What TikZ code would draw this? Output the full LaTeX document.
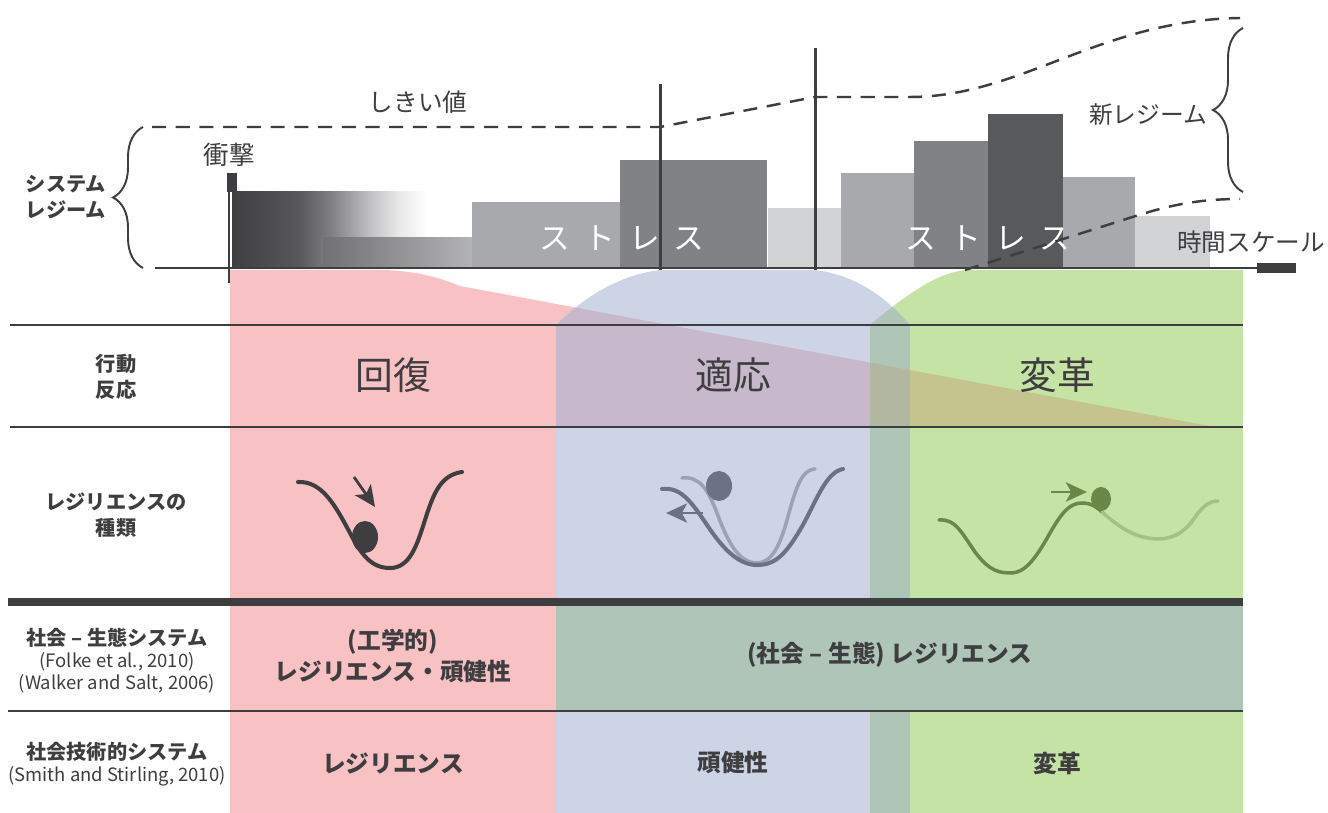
\documentclass[tikz,border=0pt]{standalone}
\usepackage{fontspec}
\setmainfont{Noto Sans CJK JP}
\usetikzlibrary{arrows.meta,decorations.pathreplacing}

\definecolor{ink}{HTML}{3E3E40}
\definecolor{pinkzone}{HTML}{F8C1C4}
\definecolor{bluezone}{HTML}{CDD4E6}
\definecolor{greenzone}{HTML}{C6E3A6}
\definecolor{bluegreen}{HTML}{AFC5B8}
\definecolor{pinkblue}{HTML}{C8B8CB}
\definecolor{pinkgreen}{HTML}{C5C48F}
\definecolor{pinkbluegreen}{HTML}{B2B7A2}
\definecolor{barA}{HTML}{A7A9AC}
\definecolor{barB}{HTML}{808285}
\definecolor{barC}{HTML}{58595B}
\definecolor{barD}{HTML}{D1D3D4}
\definecolor{slate}{HTML}{6B7285}
\definecolor{slatelight}{HTML}{9AA2B4}
\definecolor{moss}{HTML}{6A8748}
\definecolor{mosslight}{HTML}{A3C282}
\definecolor{fadeA}{HTML}{3F3F42}
\definecolor{fadeB}{HTML}{58585A}
\definecolor{fadeC}{HTML}{7F7F81}
\definecolor{fadeD}{HTML}{C0C0C2}
\definecolor{fadeE}{HTML}{E8E8E9}

% shock bar fading out towards the right
\pgfdeclarehorizontalshading{shockfade}{100bp}{color(0bp)=(fadeA); color(25bp)=(fadeA);
  color(41bp)=(fadeB); color(48.6bp)=(fadeC); color(58bp)=(fadeD); color(65bp)=(fadeE);
  color(72bp)=(white); color(100bp)=(white)}

\newcommand\fsz[2]{\fontsize{#1}{#2}\selectfont}

\tikzset{
  rowline/.style={ink, line width=1.7pt},
  rowhead/.style={ink, align=center, font=\fsz{11.5}{14.5}\bfseries},
  citation/.style={ink, font=\fsz{10.5}{12}},
  zonetext/.style={ink, font=\fsz{21.5}{26}},
  celltext/.style={ink, align=center, font=\fsz{13.5}{18}\bfseries},
  stress/.style={white, font=\fsz{17.5}{20}},
  threshold/.style={ink, line width=1.4pt, dash pattern=on 8pt off 5.5pt},
  regimebrace/.style={ink, line width=1.1pt, decorate, decoration={brace, amplitude=0.6cm}},
  valley/.style={line width=2.3pt, line cap=round},
  push/.style={line width=1.6pt, -{Stealth[length=12pt, width=11pt, inset=3pt]}},
}

\begin{document}
\begin{tikzpicture}[x=0.02cm, y=-0.02cm]
\useasboundingbox (0,0) rectangle (1328,813);

\def\pinkarea{(230,270) -- (383,270) .. controls (418,271) and (440,278) .. (460,286) -- (1215,427) -- (556,427) -- (556,813) -- (230,813) -- cycle}
\def\bluearea{(556,325) .. controls (585,296) and (620,275) .. (660,270) -- (815,270) .. controls (855,275) and (885,296) .. (910,325) -- (910,813) -- (556,813) -- cycle}
\def\greenarea{(870,325) .. controls (900,300) and (935,272) .. (967,270) -- (1243,270) -- (1243,813) -- (870,813) -- cycle}

% zones and their overlaps
\fill[pinkzone] \pinkarea;
\fill[bluezone] \bluearea;
\fill[greenzone] \greenarea;
\begin{scope}
  \clip \bluearea;
  \fill[bluegreen] \greenarea;
\end{scope}
\begin{scope}
  \clip \pinkarea;
  \fill[pinkblue] \bluearea;
  \fill[pinkgreen] \greenarea;
  \clip \bluearea;
  \fill[pinkbluegreen] \greenarea;
\end{scope}
\fill[bluegreen] (556,602) rectangle (1243,711);

% table rules
\draw[rowline] (10,325) -- (1243,325);
\draw[rowline] (10,427) -- (1243,427);
\draw[ink, line width=4.3pt] (8,602) -- (1243,602);
\draw[rowline] (8,711) -- (1243,711);

% recovery
\draw[valley, ink] (298,482) .. controls (322,481) and (335,505) .. (350,533) .. controls (362,556) and (372,568) .. (390,568) .. controls (410,568) and (417,545) .. (425,520) .. controls (433,495) and (440,475) .. (462,472);
\fill[ink] (365,537) ellipse [x radius=13, y radius=16];
\coordinate (fallA) at (354,477);
\coordinate (fallB) at (375,507);
\draw[push, ink] (fallA) -- (fallB);

% adaptation
\draw[valley, slatelight, line width=2pt] (682,478) .. controls (700,476) and (708,490) .. (717,513) .. controls (727,540) and (738,563) .. (757,563) .. controls (772,563) and (780,545) .. (787,520) .. controls (795,492) and (800,470) .. (815,469);
\draw[valley, slate] (662,489) .. controls (680,487) and (690,500) .. (705,522) .. controls (722,548) and (738,565) .. (757,565) .. controls (775,565) and (785,555) .. (800,530) .. controls (815,505) and (825,472) .. (843,469);
\fill[slate] (719,486) ellipse [x radius=13, y radius=15];
\coordinate (shiftA) at (703,513);
\coordinate (shiftB) at (666,513);
\draw[push, slate] (shiftA) -- (shiftB);

% transformation
\draw[valley, moss, line width=2pt] (939,520) .. controls (955,519) and (960,530) .. (975,552) .. controls (990,572) and (1000,573) .. (1012,573) .. controls (1025,572) and (1035,560) .. (1050,533) .. controls (1062,512) and (1070,503) .. (1082,503) .. controls (1092,503) and (1098,508) .. (1102,512);
\draw[valley, mosslight, line width=2pt] (1102,512) .. controls (1120,528) and (1135,538) .. (1157,539) .. controls (1180,539) and (1190,525) .. (1198,513) .. controls (1205,505) and (1210,501) .. (1218,501);
\fill[moss] (1101,499) ellipse [x radius=10, y radius=12];
\coordinate (tipA) at (1051,492);
\coordinate (tipB) at (1087,492);
\draw[push, moss] (tipA) -- (tipB);

% regime bars
\fill[shading=shockfade] (232,192) rectangle (440,268);
\fill[left color=fadeB!85!white, right color=fadeD!80!fadeC] (323,238) rectangle (472,268);
\fill[barA] (472,202) rectangle (620,268);
\fill[barB] (620,160) rectangle (767,268);
\fill[barD] (768,208) rectangle (841,268);
\fill[barA] (841,173) rectangle (914,268);
\fill[barB] (914,141) rectangle (988,268);
\fill[barC] (988,114) rectangle (1063,268);
\fill[barA] (1063,177) rectangle (1135,268);
\fill[barD] (1135,216) rectangle (1210,268);
\fill[ink] (227,173) rectangle (237,192);

\node[stress] (stressA) at (622,238) {ス\kern8pt ト\kern8pt レ\kern8pt ス};
\node[stress] (stressB) at (988,238) {ス\kern8pt ト\kern8pt レ\kern8pt ス};

% thresholds
\draw[threshold] (152,127) -- (660,127) -- (815,97) -- (910,97) .. controls (1020,97) and (1100,20) .. (1240,18);
\draw[threshold] (965,270) -- (1120,221) .. controls (1160,208) and (1190,199) .. (1240,199);

\draw[regimebrace] (143,268) -- (143,127);
\draw[regimebrace] (1243,192) -- (1243,28);

\draw[ink, line width=1.7pt] (660,84) -- (660,270);
\draw[ink, line width=1.7pt] (815,48) -- (815,270);
\draw[ink, line width=1.7pt] (229,173) -- (229,283);
\draw[ink, line width=1.7pt] (155,268) -- (1258,268);
\fill[ink] (1257,263) rectangle (1296,273);

% labels
\node[ink, font=\fsz{14}{17}] (threshlabel) at (418,102) {しきい値};
\node[ink, font=\fsz{14.5}{17}] (shocklabel) at (229,155) {衝撃};
\node[ink, font=\fsz{14}{17}] (timelabel) at (1251,242) {時間スケール};
\node[ink, font=\fsz{13.5}{17}] (newregime) at (1148,115) {新レジーム};
\node[rowhead] (sysregime) at (66,197) {システム\\レジーム};

\node[rowhead] (actionhead) at (116,377) {行動\\反応};
\node[rowhead] (typehead) at (116,515) {レジリエンスの\\種類};
\node[rowhead] (seshead) at (117,638) {社会 – 生態システム};
\node[citation] (folke) at (117,662) {(Folke et al., 2010)};
\node[citation] (walker) at (117,684) {(Walker and Salt, 2006)};
\node[rowhead] (sthead) at (117,752) {社会技術的システム};
\node[citation] (smith) at (117,776) {(Smith and Stirling, 2010)};

\node[zonetext] (recovery) at (393,375) {回復};
\node[zonetext] (adaptation) at (733,375) {適応};
\node[zonetext] (transform) at (1057,375) {変革};

\node[celltext] (engres) at (393,656) {(工学的)\\レジリエンス・頑健性};
\node[celltext] (sesres) at (890,655) {(社会 – 生態) レジリエンス};
\node[celltext] (stres) at (393,763) {レジリエンス};
\node[celltext] (robust) at (733,763) {頑健性};
\node[celltext] (sttrans) at (1057,763) {変革};
\end{tikzpicture}
\end{document}
